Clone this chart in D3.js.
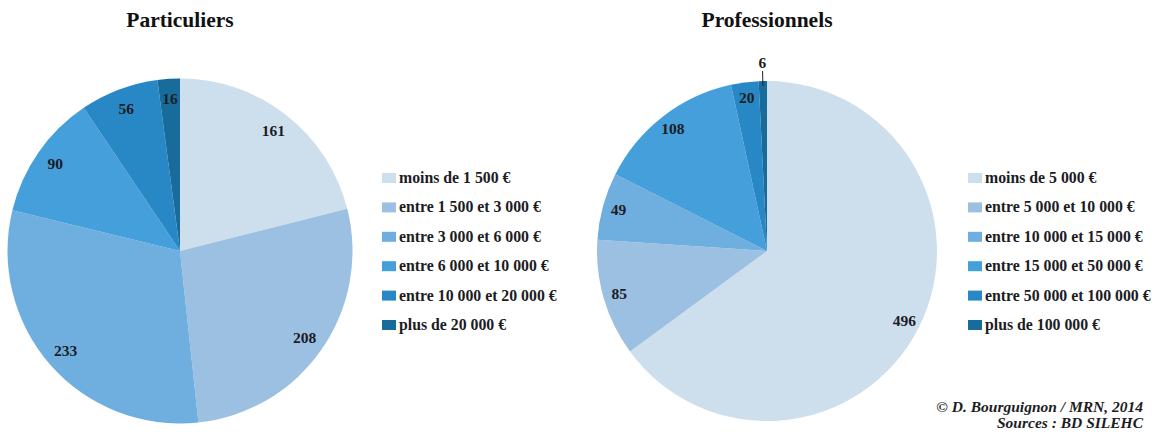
<!DOCTYPE html>
<html>
<head>
<meta charset="utf-8">
<script src="https://cdn.jsdelivr.net/npm/d3@7"></script>
</head>
<body style="margin:0">
<svg id="chart" width="1158" height="437"></svg>
<script>
// ---- Data ----
const colors = ["#cddeed", "#9cc0e2", "#6fafdf", "#449fdb", "#2888c6", "#186c9c"];

const partTitle = "Particuliers";
const partCategories = ["moins de 1 500 €", "entre 1 500 et 3 000 €", "entre 3 000 et 6 000 €",
                        "entre 6 000 et 10 000 €", "entre 10 000 et 20 000 €", "plus de 20 000 €"];
const partValues = [161, 208, 233, 90, 56, 16];

const proTitle = "Professionnels";
const proCategories = ["moins de 5 000 €", "entre 5 000 et 10 000 €", "entre 10 000 et 15 000 €",
                       "entre 15 000 et 50 000 €", "entre 50 000 et 100 000 €", "plus de 100 000 €"];
const proValues = [496, 85, 49, 108, 20, 6];

const sourceLines = ["© D. Bourguignon / MRN, 2014", "Sources : BD SILEHC"];

// ---- Drawing ----
const FONT = '"Liberation Serif"';
const INK = "#1c1c24";
const svg = d3.select("#chart");
const color = d3.scaleOrdinal().domain(d3.range(6)).range(colors);
const pie = d3.pie().sort(null).value(d => d.v);

function txt(sel) {
  return sel.attr("font-family", FONT).attr("font-weight", "bold").attr("fill", INK);
}

function drawPie(cfg) {
  const data = cfg.values.map((v, i) => ({ v, i, cat: cfg.categories[i] }));
  const arcs = pie(data);
  const g = svg.append("g").attr("transform", `translate(${cfg.cx},${cfg.cy})`);
  const arc = d3.arc().innerRadius(0).outerRadius(cfg.r);
  const labelArc = d3.arc().innerRadius(cfg.lr).outerRadius(cfg.lr);

  g.selectAll("path.slice").data(arcs).join("path")
    .attr("class", "slice")
    .attr("d", arc)
    .attr("fill", d => color(d.data.i));

  arcs.forEach(d => {
    const span = d.endAngle - d.startAngle;
    const mid = (d.startAngle + d.endAngle) / 2;
    if (span < 0.1 && cfg.outsideSmall) {
      const p1 = [Math.sin(mid) * (cfg.r - 5), -Math.cos(mid) * (cfg.r - 5)];
      const p2 = [Math.sin(mid) * (cfg.r + 10), -Math.cos(mid) * (cfg.r + 10)];
      g.append("line")
        .attr("x1", p1[0]).attr("y1", p1[1]).attr("x2", p2[0]).attr("y2", p2[1])
        .attr("stroke", INK).attr("stroke-width", 1);
      txt(g.append("text"))
        .attr("x", Math.sin(mid) * (cfg.r + 18))
        .attr("y", -Math.cos(mid) * (cfg.r + 18) + 5)
        .attr("text-anchor", "middle")
        .attr("font-size", 15.5)
        .text(d.data.v);
    } else {
      const c = labelArc.centroid(d);
      txt(g.append("text"))
        .attr("x", c[0]).attr("y", c[1] + 5)
        .attr("text-anchor", "middle")
        .attr("font-size", 15.5)
        .text(d.data.v);
    }
  });

  // title
  txt(svg.append("text"))
    .attr("x", cfg.cx).attr("y", 27)
    .attr("text-anchor", "middle")
    .attr("font-size", 21.5)
    .attr("fill", "#111")
    .text(cfg.title);

  // legend
  const lg = svg.append("g").attr("transform", `translate(${cfg.lx},${cfg.ly})`);
  const rows = lg.selectAll("g").data(data).join("g")
    .attr("transform", (d, i) => `translate(0,${i * 29.4})`);
  rows.append("rect")
    .attr("x", 0).attr("y", -5).attr("width", 14).attr("height", 10)
    .attr("fill", d => color(d.i));
  txt(rows.append("text"))
    .attr("x", 17).attr("y", 5)
    .attr("font-size", 15.8)
    .text(d => d.cat);
}

drawPie({ title: partTitle, categories: partCategories, values: partValues,
          cx: 180, cy: 251, r: 172.5, lr: 152, lx: 382, ly: 178, outsideSmall: false });
drawPie({ title: proTitle, categories: proCategories, values: proValues,
          cx: 767, cy: 251, r: 170, lr: 154, lx: 968, ly: 178, outsideSmall: true });

txt(svg.append("g").selectAll("text").data(sourceLines).join("text"))
  .attr("x", 1143)
  .attr("y", (d, i) => 412 + i * 15.5)
  .attr("text-anchor", "end")
  .attr("font-size", 15.5)
  .attr("font-style", "italic")
  .text(d => d);
</script>
</body>
</html>
